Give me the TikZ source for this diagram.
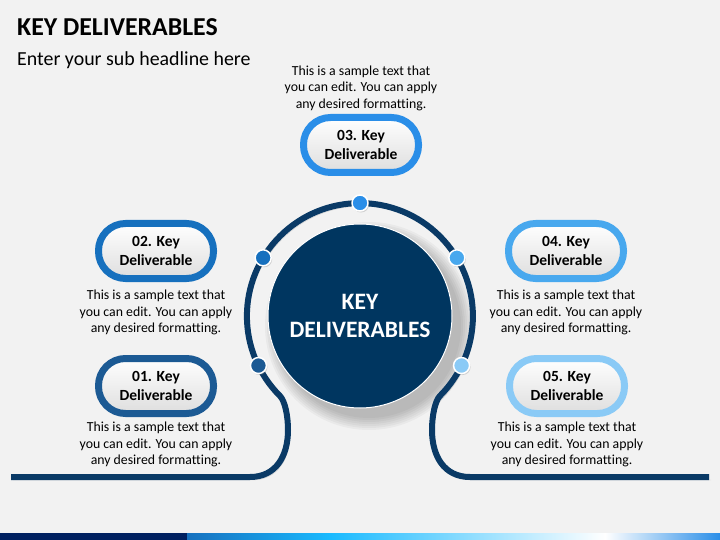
\documentclass[tikz,border=0pt]{standalone}
\usepackage{fontspec}
\setmainfont{Carlito}[Ligatures=NoCommon]
\usetikzlibrary{positioning,shadows}

\definecolor{bgrey}{RGB}{242,242,242}
\definecolor{navy}{RGB}{0,54,96}
\definecolor{ringc}{RGB}{10,58,102}
\definecolor{deep}{RGB}{0,32,96}
\definecolor{kd1}{RGB}{28,90,148}
\definecolor{kd2}{RGB}{22,112,190}
\definecolor{kd3}{RGB}{42,142,232}
\definecolor{kd4}{RGB}{72,168,238}
\definecolor{kd5}{RGB}{138,202,246}

\begin{document}
\begin{tikzpicture}[x=1pt,y=-1pt,line join=round]
  \tikzstyle{kbox}=[line width=7pt,rounded corners=27pt,minimum width=115pt,minimum height=55pt,
    top color=white,bottom color=black!13,align=center,
    font=\fontsize{15.5}{19}\selectfont\bfseries,
    drop shadow={opacity=0.25,shadow xshift=1.5pt,shadow yshift=-2.5pt}]
  \tikzstyle{desc}=[align=center,inner sep=0pt,font=\fontsize{13.8}{16.5}\selectfont]
  \tikzstyle{dot}=[circle,draw=white,line width=1.5pt,minimum size=16pt,inner sep=0pt,
    drop shadow={opacity=0.3,shadow xshift=1pt,shadow yshift=-1.5pt}]

  % background and bottom bar
  \fill[bgrey] (0,0) rectangle (720,540);
  \fill[deep] (0,533) rectangle (187,540);
  \shade[left color=kd2,right color=cyan!70!blue!90] (187,533) rectangle (330,540);
  \shade[left color=cyan!70!blue!90,right color=white] (330,533) rectangle (605,540);
  \shade[left color=white,right color=kd3] (605,533) rectangle (720,540);

  % headings
  \node[anchor=base west,inner sep=0pt,font=\fontsize{25.8}{30}\selectfont\bfseries] (title) at (17,36) {KEY DELIVERABLES};
  \node[anchor=base west,inner sep=0pt,font=\fontsize{19.9}{24}\selectfont] (sub) at (17,66) {Enter your sub headline here};

  % shadow of the hub
  \foreach \r in {92,94,...,104}
    \fill[black,opacity=0.035] (369,326) circle[radius=\r];

  % ring with the two s-curves
  \draw[ringc,line width=6pt,
    preaction={draw=black,opacity=0.15,transform canvas={shift={(2pt,-3pt)}}}]
    (11,477) -- (250,477) .. controls (276,477) and (288,456) .. (288,430)
    .. controls (288,416) and (285,401) .. (280,396)
    arc[start angle=135,end angle=405,radius=113]
    .. controls (435,401) and (432,416) .. (432,430)
    .. controls (432,456) and (444,477) .. (470,477) -- (709,477);

  \node[circle,fill=navy,draw=white,line width=1pt,minimum size=184pt,inner sep=0pt,
    text=white,align=center,font=\fontsize{23.5}{28}\selectfont\bfseries] (hub) at (360,316) {KEY\\DELIVERABLES};

  % dots on the ring
  \foreach \a/\c [count=\i] in {154/kd1,211/kd2,270/kd3,329/kd4,386/kd5}
    \node[dot,fill=\c] (d\i) at ([shift={(\a:113)}]hub.center) {};

  % boxes
  \node[kbox,draw=kd1] (k1) at (156,386) {01. Key\\Deliverable};
  \node[kbox,draw=kd2] (k2) at (156,251) {02. Key\\Deliverable};
  \node[kbox,draw=kd3] (k3) at (361,145) {03. Key\\Deliverable};
  \node[kbox,draw=kd4] (k4) at (566,251) {04. Key\\Deliverable};
  \node[kbox,draw=kd5] (k5) at (567,386) {05. Key\\Deliverable};

  % texts
  \node[desc,below=5pt of k1] (t1) {This is a sample text that\\you can edit. You can apply\\any desired formatting.};
  \node[desc,below=8pt of k2] (t2) {This is a sample text that\\you can edit. You can apply\\any desired formatting.};
  \node[desc,above=3pt of k3] (t3) {This is a sample text that\\you can edit. You can apply\\any desired formatting.};
  \node[desc,below=8pt of k4] (t4) {This is a sample text that\\you can edit. You can apply\\any desired formatting.};
  \node[desc,below=5pt of k5] (t5) {This is a sample text that\\you can edit. You can apply\\any desired formatting.};
\end{tikzpicture}
\end{document}
